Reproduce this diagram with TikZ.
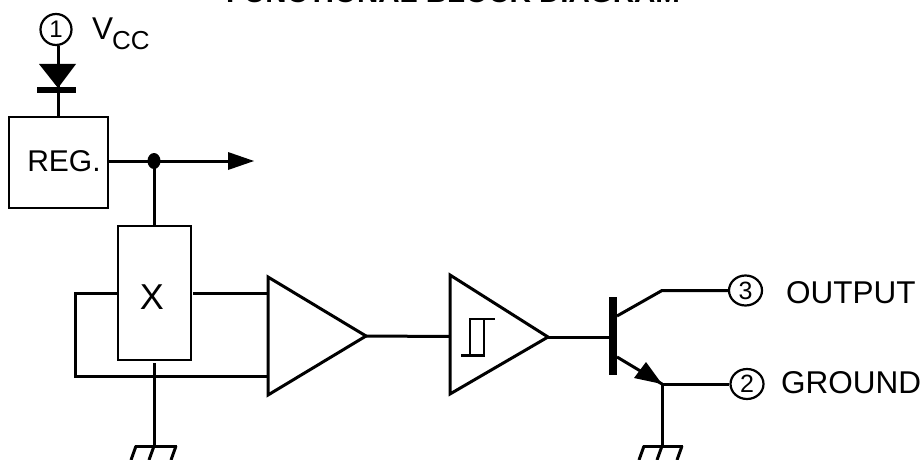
\documentclass[tikz,border=0pt]{standalone}
\usepackage{fontspec}
\usetikzlibrary{shapes.geometric}
\setmainfont{Liberation Sans}
\tikzset{
  wire/.style={draw=black,line width=3pt,line cap=butt},
  boxnode/.style={draw=black,line width=2.6pt,inner sep=0pt},
  pincircle/.style={circle,draw=black,line width=2.2pt,minimum size=31pt,inner sep=0pt,font=\fontsize{24}{24}\selectfont},
  pinoval/.style={ellipse,draw=black,line width=2.2pt,minimum width=33pt,minimum height=30pt,inner sep=0pt,font=\fontsize{25}{25}\selectfont},
  lbl/.style={inner sep=0pt,anchor=base west,font=\fontsize{31.5}{32}\selectfont}
}
\begin{document}
\begin{tikzpicture}[x=1pt,y=-1pt]
\clip (0,0) rectangle (923,460);
\node[inner sep=0pt,anchor=base,font=\bfseries\fontsize{29.5}{30}\selectfont] (title) at (453,3) {FUNCTIONAL BLOCK DIAGRAM};
% pins
\node[pincircle] (p1) at (56,29.5) {1};
\node[pinoval] (p3) at (745.5,290.5) {3};
\node[pinoval] (p2) at (747,384) {2};
\node[lbl] (vcc) at (92,40) {V};
\node[lbl,font=\fontsize{26}{26}\selectfont] (cc) at (112,49) {CC};
\node[lbl] (out) at (786,303) {OUTPUT};
\node[lbl] (gnd) at (781,393) {GROUND};
% boxes
\node[boxnode,minimum width=99pt,minimum height=91pt] (reg) at (58.5,162.5) {};
\node[inner sep=0pt,font=\fontsize{30}{30}\selectfont] (regt) at (64,161) {REG.};
\node[boxnode,minimum width=73pt,minimum height=134pt] (xb) at (154.5,293) {};
\node[inner sep=0pt,font=\fontsize{36}{36}\selectfont] (xt) at (152,297) {X};
% diode
\coordinate (dtl) at (39,64); \coordinate (dtr) at (76,64); \coordinate (dt) at (58,88);
\coordinate (dc) at (58,90);
\fill[black] (dtl) -- (dtr) -- (dt) -- cycle;
\fill[black] (37,87) rectangle (76,93);
\draw[wire] (p1.south) ++(2,0) -- (dc);
\draw[wire] (dc) -- (reg.north -| dc);
% regulator output
\coordinate (junc) at (154,161);
\coordinate (arrs) at (228,161);
\draw[wire] (reg.east |- junc) -- (arrs);
\fill[black] (228,152) -- (254,161) -- (228,170) -- cycle;
\fill[black] (junc) ellipse [x radius=6.5pt,y radius=8pt];
\draw[wire] (junc) -- (xb.north -| junc);
% amplifiers
\coordinate (a1) at (268,277); \coordinate (a2) at (268,395); \coordinate (a3) at (366,336);
\coordinate (b1) at (450,275); \coordinate (b2) at (450,394); \coordinate (b3) at (548,337);
\draw[wire,line join=miter] (a1) -- (a3) -- (a2) -- cycle;
\draw[wire,line join=miter] (b1) -- (b3) -- (b2) -- cycle;
% x box wiring
\coordinate (lt) at (75,293); \coordinate (lb) at (75,376);
\draw[wire,line join=miter] (118,293) -- (lt) -- (lb) -- (268,376);
\draw[wire] (193,293) -- (268,293);
\draw[wire] (154,363) -- (154,446);
\draw[wire] (135,446) -- (177,446);
\draw[wire] (136,446) -- (131,460) (154,446) -- (149,460) (176,446) -- (171,460);
% stage links
\draw[wire] (a3) -- (450,336.5);
\draw[wire] (b3) -- (610,337);
% hysteresis
\draw[wire,line width=2.4pt,line join=miter] (461,355.5) -- (484,355.5) -- (484,319) (470,355.5) -- (470,319) -- (495,319);
% transistor
\fill[black] (609,297) rectangle (617,375);
\coordinate (ek) at (662,384);
\draw[wire,line join=miter] (617,316) -- (662,290.5) -- (p3.west);
\draw[wire] (617,357) -- (ek);
\fill[black] (662,384) -- (634,378) -- (646,362) -- cycle;
\draw[wire] (ek) -- (p2.west);
\draw[wire] (ek) -- (662,446);
\draw[wire] (643,446) -- (683,446);
\draw[wire] (644,446) -- (639,460) (662,446) -- (657,460) (682,446) -- (677,460);
\end{tikzpicture}
\end{document}
